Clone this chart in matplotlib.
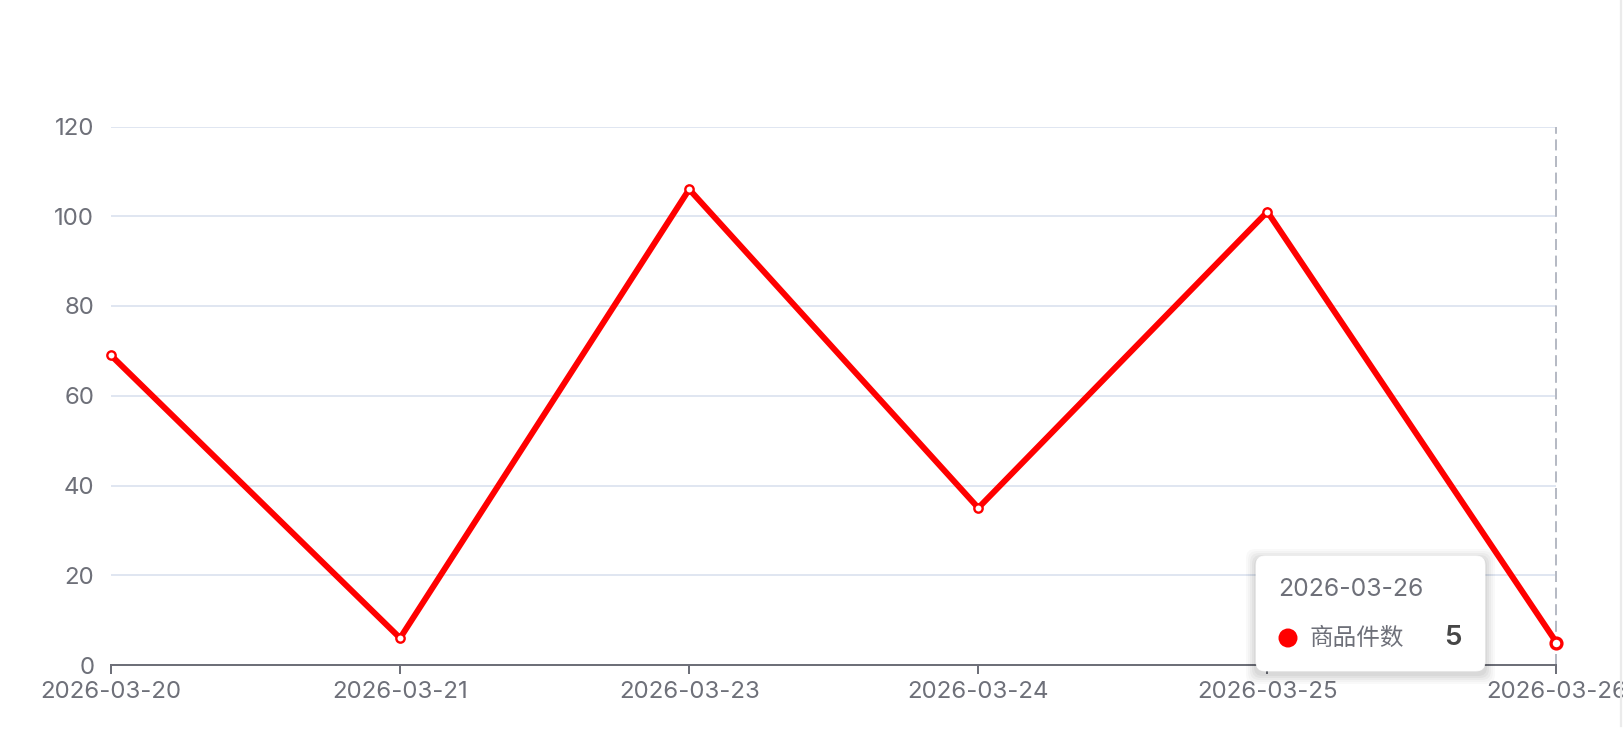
import matplotlib
matplotlib.use("Agg")
import matplotlib.pyplot as plt
from matplotlib.patches import FancyBboxPatch, Circle
from matplotlib.lines import Line2D

plt.rcParams['font.family'] = ['Inter', 'Noto Sans CJK SC', 'DejaVu Sans']

categories = ["2026-03-20", "2026-03-21", "2026-03-23", "2026-03-24", "2026-03-25", "2026-03-26"]
values = [69, 6, 106, 35, 101, 5]
series_name = "商品件数"
y_ticks = [0, 20, 40, 60, 80, 100, 120]

W, H = 1624, 736
fig = plt.figure(figsize=(W / 100, H / 100), dpi=100)
fig.patch.set_facecolor("white")

left, right, bottom_px, top_px = 111, 1556.5, 665, 126.5
ax = fig.add_axes([left / W, (H - bottom_px) / H, (right - left) / W, (bottom_px - top_px) / H])
ax.set_facecolor("white")

axis_col = "#6E7079"
grid_col = "#E0E6F1"
red = "#FF0000"

ax.plot(categories, values, color=red, lw=4.3, zorder=3, solid_joinstyle="miter", clip_on=False)
ax.plot(categories[:-1], values[:-1], ls="none", marker="o", ms=6.0, mew=1.7,
        mfc="white", mec=red, zorder=4, clip_on=False)
ax.plot(categories[-1:], values[-1:], ls="none", marker="o", ms=7.8, mew=2.4,
        mfc="white", mec=red, zorder=5, clip_on=False)

ax.set_xlim(0, len(categories) - 1)
ax.set_ylim(0, 120)
ax.set_yticks(y_ticks)
ax.set_yticklabels([str(v) for v in y_ticks])

for s in ["top", "right", "left"]:
    ax.spines[s].set_visible(False)
ax.spines["bottom"].set_color(axis_col)
ax.spines["bottom"].set_linewidth(1.44)
ax.spines["bottom"].set_zorder(2.5)

ax.grid(axis="y", color=grid_col, lw=1.44, zorder=0)
ax.set_axisbelow(True)
ax.tick_params(axis="y", length=0, pad=12, labelsize=17.3, labelcolor=axis_col)
ax.tick_params(axis="x", length=6.5, width=1.44, color=axis_col, pad=5,
               labelsize=17.3, labelcolor=axis_col)

# axis pointer dashed line at hovered category
ax.axvline(len(categories) - 1, color="#B6BAC4", lw=1.44, ls=(0, (5.5, 2.8)), zorder=2, clip_on=False)

# right edge faint line
fig.add_artist(Line2D([1621 / W, 1621 / W], [1 - 726 / H, 1.0], transform=fig.transFigure,
                      color="#EBEBEB", lw=1.6))

# tooltip
bx0, by0, bx1, by1 = 1256, 556, 1485, 671
def fb(x0, y0, x1, y1, **kw):
    return FancyBboxPatch((x0 / W, 1 - y1 / H), (x1 - x0) / W, (y1 - y0) / H,
                          boxstyle="round,pad=0,rounding_size=0.0055",
                          transform=fig.transFigure, mutation_aspect=W / H, **kw)
for i, a in enumerate([0.025, 0.025, 0.03, 0.035, 0.04]):
    g = 10 - 2 * i
    fig.add_artist(fb(bx0 - g, by0 - g + 3, bx1 + g, by1 + g + 3, facecolor="black", edgecolor="none",
                      alpha=a, zorder=10))
fig.add_artist(fb(bx0, by0, bx1, by1, facecolor="white", edgecolor="white", lw=0.5, zorder=11))
fig.text(1278 / W, 1 - 590 / H, categories[-1], fontsize=17.8, color=axis_col,
         ha="left", va="center", zorder=12)
dot = Circle((1288 / 100, (H - 638) / 100), 9.5 / 100, transform=fig.dpi_scale_trans,
             facecolor=red, edgecolor="none", zorder=12)
fig.add_artist(dot)
fig.text(1310 / W, 1 - 638 / H, series_name, fontsize=17, color=axis_col,
         family=['Noto Sans CJK SC', 'DejaVu Sans'], ha="left", va="center", zorder=12)
fig.text(1462 / W, 1 - 638 / H, str(values[-1]), fontsize=20, color="#464646",
         ha="right", va="center", fontweight="semibold", zorder=12)

fig.savefig("out.png", dpi=100, facecolor="white")
